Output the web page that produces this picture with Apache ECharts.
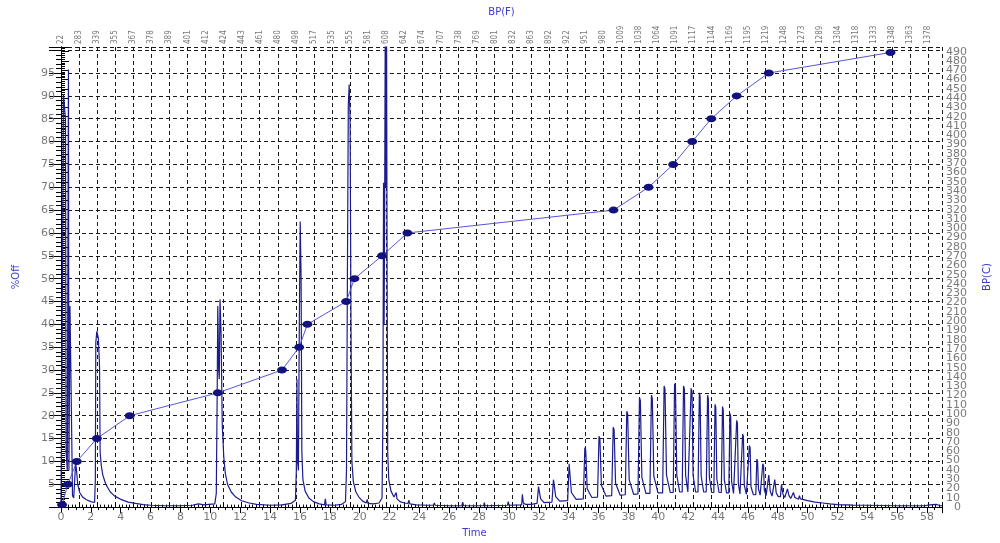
<!DOCTYPE html>
<html>
<head>
<meta charset="utf-8">
<script src="https://cdn.jsdelivr.net/npm/echarts@6/dist/echarts.min.js"></script>
<style>
  html, body { margin: 0; padding: 0; background: #fff; }
  #chart { width: 1000px; height: 543px; }
</style>
</head>
<body>
<div id="chart"></div>
<script>
// Boiling point (F) labels along the top axis, one per 1.21 min of run time
const bpLabels = [22, 283, 339, 355, 367, 378, 389, 401, 412, 424, 443, 461, 480, 498, 517, 535,
  555, 581, 608, 642, 674, 707, 738, 769, 801, 832, 863, 892, 922, 951, 980, 1009, 1038, 1064,
  1091, 1117, 1144, 1169, 1195, 1219, 1248, 1273, 1289, 1304, 1318, 1333, 1348, 1363, 1378];
const bpStep = 1.21;

// Cumulative percent off vs. retention time
const offTime = [0.07, 0.46, 1.06, 2.4, 4.6, 10.5, 14.8, 15.95, 16.5, 19.1, 19.65, 21.5, 23.2,
  37.0, 39.35, 41.0, 42.27, 43.55, 45.25, 47.4, 55.55];
const offPct = [0.5, 5, 10, 15, 20, 25, 30, 35, 40, 45, 50, 55, 60, 65, 70, 75, 80, 85, 90, 95, 99.5];

// Detector trace [time, response], light end (solvent and first peaks)
const signalEarly = [
  [0, 0.3], [0.08, 0.5], [0.12, 60], [0.16, 90.4], [0.28, 90.4], [0.3, 85], [0.34, 12], [0.4, 12],
  [0.42, 8], [0.48, 8], [0.5, 95.8], [0.53, 8], [0.58, 8], [0.6, 44], [0.66, 44], [0.68, 25],
  [0.75, 25], [0.77, 2.5], [0.85, 2], [0.92, 6], [0.98, 9.8], [1.04, 8], [1.12, 5], [1.25, 3.2],
  [1.45, 2.2], [1.7, 1.6], [2.0, 1.2], [2.25, 1.0], [2.3, 6], [2.33, 36], [2.4, 38.5], [2.5, 37],
  [2.58, 31], [2.62, 12], [2.7, 9], [2.8, 7], [3.0, 5], [3.3, 3.3], [3.6, 2.4], [4.0, 1.7],
  [4.5, 1.1], [5.0, 0.8], [5.5, 0.55], [6.0, 0.4], [7.0, 0.3], [8.0, 0.3], [8.8, 0.4], [9.2, 0.7],
  [9.6, 0.5], [9.9, 0.6]
];

// Middle distillate region
const signalMid = [
  [10.3, 0.7], [10.4, 3], [10.46, 25], [10.5, 44], [10.56, 30], [10.6, 28], [10.65, 45.5],
  [10.72, 38], [10.8, 18], [10.9, 11], [11.0, 7.5], [11.15, 5], [11.4, 3.3], [11.7, 2.2],
  [12.1, 1.4], [12.6, 0.9], [13.1, 0.6], [14.0, 0.4], [14.8, 0.5], [15.4, 0.8], [15.7, 1.5],
  [15.76, 8], [15.8, 28], [15.84, 10], [15.9, 8], [15.96, 40], [16.02, 62.5], [16.08, 50],
  [16.13, 12], [16.2, 6], [16.35, 3.5], [16.6, 2], [16.9, 1.2], [17.3, 0.7], [17.65, 0.5],
  [17.7, 1.8], [17.76, 0.5], [18.3, 0.4], [18.8, 0.6], [19.05, 1.2], [19.12, 8], [19.18, 50],
  [19.24, 88], [19.3, 92.5], [19.36, 85], [19.42, 40], [19.48, 10], [19.58, 5.5], [19.75, 3.3],
  [19.95, 2.2], [20.2, 1.3], [20.45, 0.9], [20.5, 1.7], [20.56, 0.8], [20.9, 0.7], [21.3, 0.9],
  [21.5, 2], [21.56, 20], [21.6, 71], [21.64, 40], [21.68, 70], [21.72, 110], [21.76, 70],
  [21.8, 110], [21.84, 50], [21.88, 12], [21.95, 6], [22.1, 3.5], [22.3, 2.2], [22.42, 2],
  [22.45, 3.2], [22.5, 1.8], [22.7, 1.2], [23.0, 0.9], [23.25, 0.8], [23.3, 1.5], [23.36, 0.7],
  [23.8, 0.5], [24.5, 0.4], [24.95, 0.4], [25.0, 0.9], [25.06, 0.4], [26.0, 0.3], [26.85, 0.3],
  [26.9, 1.1], [26.96, 0.3], [28.3, 0.3], [28.35, 1.0], [28.4, 0.3], [29.9, 0.4], [29.95, 1.2],
  [30.0, 0.4], [30.85, 0.5], [30.9, 2.8], [30.96, 0.9], [31.1, 0.6], [31.5, 0.6]
];

// Heavy end: resolved paraffin peaks and the tail
const signalHeavy = [
  [31.88, 0.8], [31.98, 4.5], [32.04, 4.2], [32.12, 1.8], [32.35, 1.0],
  [32.88, 1.1], [32.98, 6], [33.04, 5.7], [33.13, 2.3], [33.4, 1.3],
  [33.93, 1.4], [34.03, 9.5], [34.09, 9.1], [34.18, 3.2], [34.5, 1.7],
  [34.98, 1.8], [35.08, 13], [35.14, 12.5], [35.24, 4], [35.55, 2.1],
  [35.93, 2.2], [36.03, 15.5], [36.09, 15], [36.19, 4.8], [36.5, 2.4],
  [36.88, 2.5], [36.98, 17.5], [37.04, 17], [37.14, 5.2], [37.45, 2.6],
  [37.79, 2.7], [37.89, 21], [37.95, 20.4], [38.05, 6], [38.35, 2.8],
  [38.64, 2.9], [38.74, 24], [38.8, 23.3], [38.9, 6.5], [39.17, 3],
  [39.44, 3], [39.54, 24.5], [39.6, 23.8], [39.7, 6.8], [39.98, 3.1],
  [40.29, 3.1], [40.39, 26.5], [40.45, 25.8], [40.55, 7], [40.8, 3.2],
  [41.0, 3.2], [41.09, 27], [41.15, 26.3], [41.24, 7], [41.43, 3.3],
  [41.6, 3.3], [41.69, 26.5], [41.75, 25.8], [41.83, 7], [41.98, 3.3],
  [42.11, 3.3], [42.2, 26], [42.26, 25.3], [42.33, 7], [42.5, 3.3],
  [42.66, 3.3], [42.75, 25], [42.8, 24.3], [42.87, 6.8], [43.04, 3.3],
  [43.21, 3.3], [43.3, 24.5], [43.35, 23.8], [43.42, 6.6], [43.57, 3.2],
  [43.72, 3.2], [43.8, 22.5], [43.85, 21.8], [43.92, 6.2], [44.07, 3.2],
  [44.22, 3.2], [44.3, 22], [44.35, 21.3], [44.42, 6], [44.57, 3.1],
  [44.72, 3.1], [44.8, 20.5], [44.85, 19.8], [44.91, 5.6], [45.04, 3.0],
  [45.17, 3.0], [45.25, 19], [45.3, 18.3], [45.36, 5.2], [45.47, 2.9],
  [45.58, 2.9], [45.65, 16], [45.7, 15.4], [45.76, 4.8], [45.9, 2.8],
  [46.03, 2.8], [46.1, 13.5], [46.15, 13], [46.21, 4.4], [46.37, 2.7],
  [46.53, 2.7], [46.6, 10.5], [46.65, 10], [46.71, 4], [46.82, 2.6],
  [46.93, 2.6], [47.0, 9.5], [47.05, 9], [47.1, 3.8], [47.22, 2.5],
  [47.33, 2.5], [47.4, 7], [47.45, 6.6], [47.5, 3.4], [47.62, 2.4],
  [47.73, 2.4], [47.8, 6], [47.85, 5.6], [47.9, 3.1], [48.04, 2.3],
  [48.18, 2.3], [48.25, 5], [48.3, 4.6], [48.35, 2.8], [48.47, 2.1],
  [48.58, 2.1], [48.65, 4], [48.7, 3.7], [48.75, 2.5], [48.87, 1.9],
  [48.99, 1.9], [49.05, 3.2], [49.1, 2.9], [49.15, 2.1], [49.27, 1.7],
  [49.39, 1.7], [49.45, 2.5], [49.52, 1.8],
  [50.0, 1.4], [50.5, 1.1], [51.0, 0.9], [51.5, 0.7], [52.0, 0.55], [53.0, 0.45], [54.0, 0.4],
  [55.0, 0.35], [56.0, 0.3], [57.0, 0.3], [57.8, 0.3], [58.2, 0.5], [58.6, 0.6], [58.9, 0.3], [59, 0.3]
];

const labelFont = "'DejaVu Sans', sans-serif";
const gray = '#7a7a7a';
const nameBlue = '#3a3acb';
const dashed = { color: '#1a1a1a', width: 1, type: [4, 3] };
const rightMax = 495;

const chart = echarts.init(document.getElementById('chart'), null, { renderer: 'canvas' });

chart.setOption({
  animation: false,
  backgroundColor: '#fff',
  grid: { left: 61, right: 50, top: 47, bottom: 26 },
  xAxis: [
    {
      type: 'value', position: 'bottom', min: 0, max: 59, interval: 2,
      name: 'Time', nameLocation: 'middle', nameGap: 15,
      nameTextStyle: { color: nameBlue, fontSize: 10, fontFamily: labelFont, padding: [0, 54, 0, 0] },
      axisLine: { lineStyle: { color: '#000', width: 1 } },
      axisTick: { length: 6, lineStyle: { color: '#000' } },
      minorTick: { show: true, splitNumber: 4, length: 3, lineStyle: { color: '#000' } },
      axisLabel: { color: gray, fontSize: 11, fontFamily: labelFont, margin: 5, showMaxLabel: false },
      splitLine: { show: false }
    },
    {
      type: 'value', position: 'top', min: 0, max: 59, interval: bpStep,
      name: 'BP(F)', nameLocation: 'middle', nameGap: 29,
      nameTextStyle: { color: nameBlue, fontSize: 10, fontFamily: labelFont },
      axisLine: { lineStyle: { color: '#000', width: 1 } },
      axisTick: { length: 5, lineStyle: { color: '#000' } },
      minorTick: { show: true, splitNumber: 5, length: 2.5, lineStyle: { color: '#000' } },
      axisLabel: {
        rotate: 90, margin: 3, fontSize: 8, color: gray,
        fontFamily: "'Liberation Sans Narrow', 'DejaVu Sans Condensed', sans-serif",
        formatter: v => {
          const i = Math.round(v / bpStep);
          return i < bpLabels.length ? String(bpLabels[i]) : '';
        }
      },
      splitLine: { show: true, lineStyle: dashed }
    }
  ],
  yAxis: [
    {
      type: 'value', position: 'left', min: 0, max: 100.7, interval: 5, offset: 4,
      name: '%Off', nameLocation: 'middle', nameGap: 36,
      nameTextStyle: { color: nameBlue, fontSize: 10, fontFamily: labelFont },
      axisLine: { show: true, lineStyle: { color: '#000', width: 1 } },
      axisTick: { show: true, length: 12, lineStyle: { color: '#000' } },
      minorTick: { show: true, splitNumber: 5, length: 5, lineStyle: { color: '#000' } },
      axisLabel: {
        color: gray, fontSize: 11, fontFamily: labelFont, margin: 2,
        formatter: v => (v === 0 || v >= 100) ? '' : String(v)
      },
      splitLine: { show: true, lineStyle: dashed }
    },
    {
      type: 'value', position: 'right', min: 0, max: rightMax, interval: 10, offset: 2,
      name: 'BP(C)', nameLocation: 'middle', nameGap: 38,
      nameTextStyle: { color: nameBlue, fontSize: 10, fontFamily: labelFont },
      axisLine: { show: true, lineStyle: { color: '#000', width: 1 } },
      axisTick: { show: true, length: 8, lineStyle: { color: '#000' } },
      minorTick: { show: true, splitNumber: 5, length: 4, lineStyle: { color: '#000' } },
      axisLabel: { color: gray, fontSize: 11, fontFamily: labelFont, margin: 2, showMinLabel: false },
      splitLine: { show: false }
    },
    {
      // carries only the zero label of the right-hand scale
      type: 'value', position: 'right', min: 0, max: rightMax, offset: 2,
      axisLine: { show: false }, axisTick: { show: false }, splitLine: { show: false },
      axisLabel: { color: gray, fontSize: 11, fontFamily: labelFont, margin: 10, customValues: [0] }
    }
  ],
  series: [
    {
      name: 'Signal', type: 'line', xAxisIndex: 0, yAxisIndex: 0,
      data: signalEarly.concat(signalMid, signalHeavy),
      showSymbol: false, symbol: 'none', clip: true, z: 2,
      lineStyle: { color: '#1c1c8e', width: 1.2 }
    },
    {
      name: '%Off', type: 'line', xAxisIndex: 0, yAxisIndex: 0,
      data: offTime.map((t, i) => [t, offPct[i]]),
      symbol: 'circle', symbolSize: [10, 7], showSymbol: true, z: 3,
      itemStyle: { color: '#12127e' },
      lineStyle: { color: '#5656d8', width: 1 }
    }
  ]
});
</script>
</body>
</html>
